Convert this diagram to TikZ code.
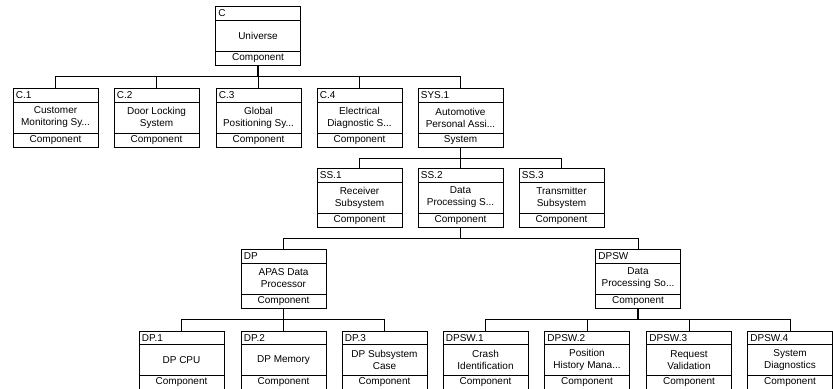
\documentclass[tikz,border=0pt]{standalone}
\usepackage{fontspec}
\setmainfont{Liberation Sans}
\begin{document}
\begin{tikzpicture}[
    x=0.75pt, y=-0.75pt,
    line width=0.6pt,
    every node/.style={font=\fontsize{7.5}{9}\selectfont, inner sep=0pt},
    moldura/.style={draw, line width=0.6pt, minimum width=63.75pt, minimum height=44.25pt},
    ligacao/.style={line width=0.6pt},
    descida/.style={line width=1.2pt},
    pics/wbsbox/.style n args={3}{
        code={
            \node[moldura, anchor=north] (-box) at (0,0) {};
            \draw (-42.5,14) -- (42.5,14);
            \draw (-42.5,45) -- (42.5,45);
            \node[anchor=west] (-id) at (-40,7.5) {#1};
            \node[align=center] (-name) at (0,29.5) {#2};
            \node (-kind) at (0,52) {#3};
        }
    }
]
\useasboundingbox (0,0) rectangle (833,389);

% Topo
\pic (c) at (258,6) {wbsbox={C}{Universe}{Component}};

% Primeiro nivel
\pic (c1) at (55.5,88) {wbsbox={C.1}{Customer\\Monitoring Sy...}{Component}};
\pic (c2) at (156.5,88) {wbsbox={C.2}{Door Locking\\System}{Component}};
\pic (c3) at (258.5,88) {wbsbox={C.3}{Global\\Positioning Sy...}{Component}};
\pic (c4) at (359.5,88) {wbsbox={C.4}{Electrical\\Diagnostic S...}{Component}};
\pic (sys1) at (460.5,88) {wbsbox={SYS.1}{Automotive\\Personal Assi...}{System}};

% Subsistemas
\pic (ss1) at (359.5,168) {wbsbox={SS.1}{Receiver\\Subsystem}{Component}};
\pic (ss2) at (460.5,168) {wbsbox={SS.2}{Data\\Processing S...}{Component}};
\pic (ss3) at (561.5,168) {wbsbox={SS.3}{Transmitter\\Subsystem}{Component}};

% Processador e software
\pic (dp) at (283.5,249) {wbsbox={DP}{APAS Data\\Processor}{Component}};
\pic (dpsw) at (638,249) {wbsbox={DPSW}{Data\\Processing So...}{Component}};

% Folhas
\pic (dp1) at (181.5,330.5) {wbsbox={DP.1}{DP CPU}{Component}};
\pic (dp2) at (283.5,330.5) {wbsbox={DP.2}{DP Memory}{Component}};
\pic (dp3) at (384.5,330.5) {wbsbox={DP.3}{DP Subsystem\\Case}{Component}};
\pic (dpsw1) at (485.5,330.5) {wbsbox={DPSW.1}{Crash\\Identification}{Component}};
\pic (dpsw2) at (587,330.5) {wbsbox={DPSW.2}{Position\\History Mana...}{Component}};
\pic (dpsw3) at (689,330.5) {wbsbox={DPSW.3}{Request\\Validation}{Component}};
\pic (dpsw4) at (790,330.5) {wbsbox={DPSW.4}{System\\Diagnostics}{Component}};

% Ligacoes
\draw[descida] (c-box.south) -- ++(0,11) coordinate (c-bus);
\foreach \k in {c1,c2,c3,c4,sys1}
    \draw[ligacao] (\k-box.north) |- (c-bus);

\draw[descida] (sys1-box.south) -- ++(0,10.5) coordinate (sys1-bus);
\foreach \k in {ss1,ss2,ss3}
    \draw[ligacao] (\k-box.north) |- (sys1-bus);

\draw[descida] (ss2-box.south) -- ++(0,10.5) coordinate (ss2-bus);
\foreach \k in {dp,dpsw}
    \draw[ligacao] (\k-box.north) |- (ss2-bus);

\draw[descida] (dp-box.south) -- ++(0,11) coordinate (dp-bus);
\foreach \k in {dp1,dp2,dp3}
    \draw[ligacao] (\k-box.north) |- (dp-bus);

\draw[descida] (dpsw-box.south) -- ++(0,11) coordinate (dpsw-bus);
\foreach \k in {dpsw1,dpsw2,dpsw3,dpsw4}
    \draw[ligacao] (\k-box.north) |- (dpsw-bus);

\end{tikzpicture}
\end{document}
